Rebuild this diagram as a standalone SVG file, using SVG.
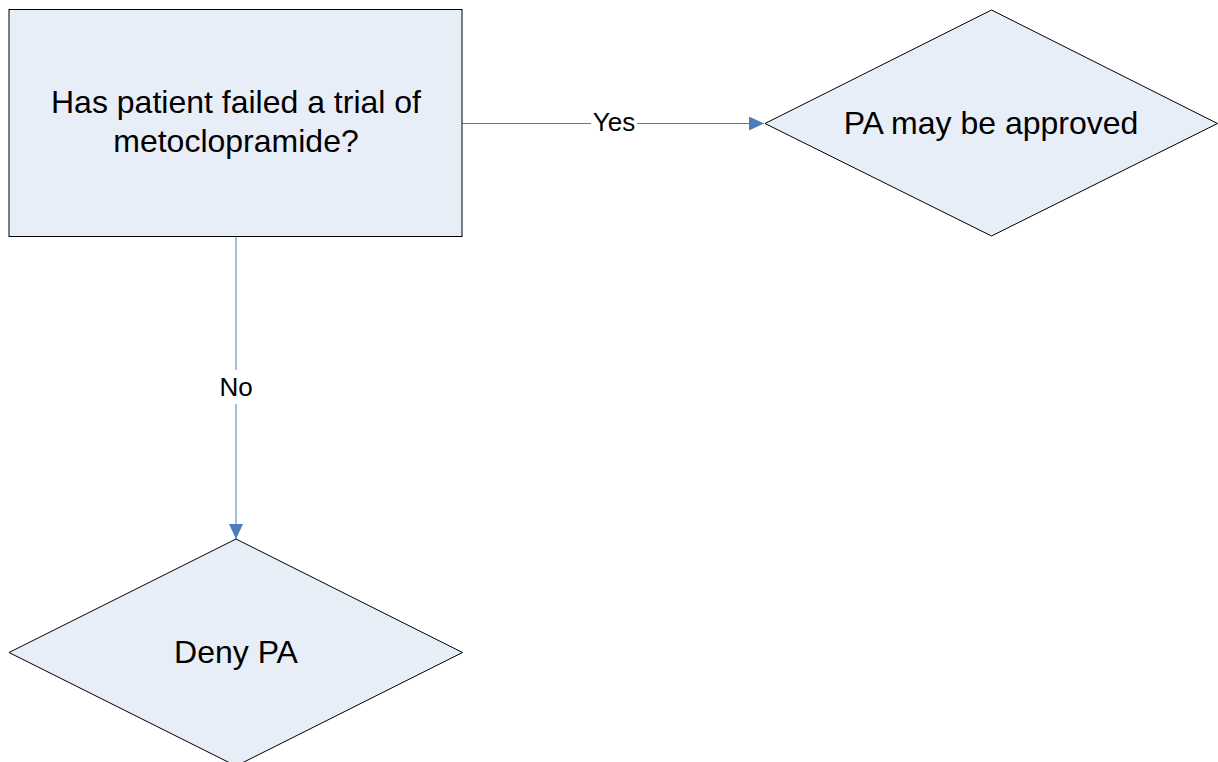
<svg xmlns="http://www.w3.org/2000/svg" width="1218" height="762" viewBox="0 0 1218 762">
<style>
.shape{fill:#e8eef7;stroke:#000;stroke-width:1}
.t{font-family:"Liberation Sans",Arial,sans-serif;font-size:32px;fill:#000;text-anchor:middle}
.lbl{font-family:"Liberation Sans",Arial,sans-serif;font-size:26px;fill:#000;text-anchor:middle}
.conn{stroke:#4a7ebb;stroke-width:1;fill:none}
</style>
<defs>
<marker id="arr" markerWidth="15" markerHeight="14" refX="15" refY="7" orient="auto" markerUnits="userSpaceOnUse">
<path d="M0,0 L15,7 L0,14 Z" fill="#4a7ebb"/>
</marker>
</defs>
<rect width="1218" height="762" fill="#fff"/>
<g id="connectors">
<path class="conn" d="M462,123.5 H764" marker-end="url(#arr)"/>
<path class="conn" d="M236,237 V539" marker-end="url(#arr)"/>
<rect x="591" y="108" width="46" height="30" fill="#fff"/>
<text class="lbl" x="614" y="131">Yes</text>
<rect x="218" y="370" width="36" height="34" fill="#fff"/>
<text class="lbl" x="236" y="396">No</text>
</g>
<g id="node-question">
<rect class="shape" x="9" y="9.5" width="453" height="227"/>
<text class="t" x="236" y="113">Has patient failed a trial of</text>
<text class="t" x="236" y="152">metoclopramide?</text>
</g>
<g id="node-approved">
<polygon class="shape" points="765,123.5 991.5,10 1217.5,123.5 991.5,236"/>
<text class="t" x="991" y="134">PA may be approved</text>
</g>
<g id="node-deny">
<polygon class="shape" points="9,652.5 236,539 462.5,652.5 236,766"/>
<text class="t" x="236" y="663">Deny PA</text>
</g>
</svg>
